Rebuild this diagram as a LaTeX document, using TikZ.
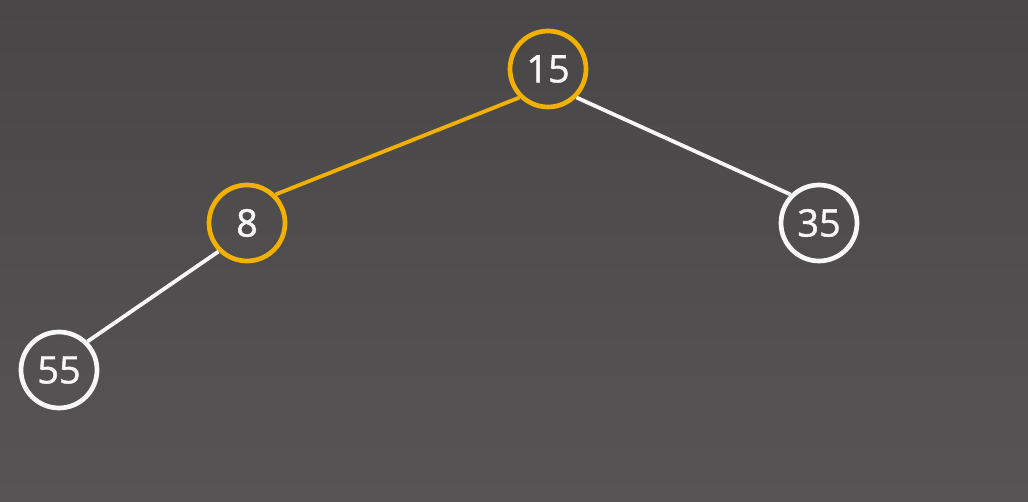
\documentclass[tikz,border=0pt]{standalone}
\usepackage{fontspec}
\setmainfont{Open Sans}[FakeBold=1.2]
\definecolor{bgtop}{HTML}{484647}
\definecolor{bgbot}{HTML}{565455}
\definecolor{hl}{HTML}{F2B000}
\definecolor{wh}{HTML}{F7F7F7}
\begin{document}
\begin{tikzpicture}[x=1pt,y=-1pt,
  treenode/.style={circle,draw=wh,line width=4.7pt,minimum size=76pt,inner sep=0pt,text=wh,font=\fontsize{38}{42}\selectfont},
  hlnode/.style={treenode,draw=hl},
  edge/.style={draw=wh,line width=3.8pt},
  hledge/.style={draw=hl,line width=3.8pt}]
\shade[top color=bgtop,bottom color=bgbot] (0,0) rectangle (1028,502);
\useasboundingbox (0,0) rectangle (1028,502);
\node[hlnode] (n15) at (548,69) {15};
\node[hlnode] (n8) at (247,223) {8};
\node[treenode] (n35) at (819,223) {35};
\node[treenode] (n55) at (59,370) {55};
\draw[hledge] (n15.225) -- (n8.45);
\draw[edge] (n15.315) -- (n35.135);
\draw[edge] (n8.225) -- (n55.45);
\end{tikzpicture}
\end{document}
